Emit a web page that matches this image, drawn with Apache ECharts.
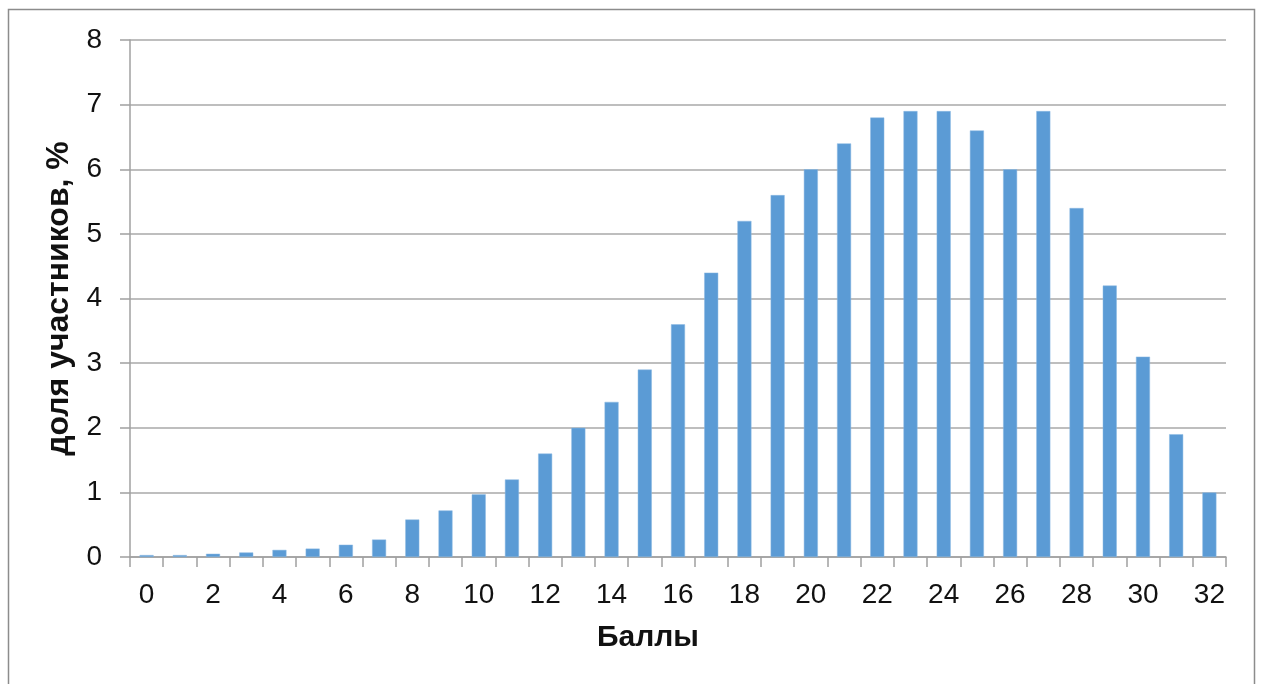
<!DOCTYPE html>
<html><head><meta charset="utf-8">
<script src="https://cdn.jsdelivr.net/npm/echarts@6/dist/echarts.min.js"></script>
<style>html,body{margin:0;padding:0;background:#fff}#c{width:1263px;height:684px}</style>
</head><body><div id="c"></div>
<script>
const categories = ['0','1','2','3','4','5','6','7','8','9','10','11','12','13','14','15','16','17','18','19','20','21','22','23','24','25','26','27','28','29','30','31','32'];
const shares = [0.03,0.03,0.05,0.07,0.11,0.13,0.19,0.27,0.58,0.72,0.97,1.2,1.6,2.0,2.4,2.9,3.6,4.4,5.2,5.6,6.0,6.4,6.8,6.9,6.9,6.6,6.0,6.9,5.4,4.2,3.1,1.9,1.0];
const yTitle = 'доля участников, %';
const xTitle = 'Баллы';

const chart = echarts.init(document.getElementById('c'), null, {renderer:'canvas'});
const font = 'Liberation Sans, Arial, sans-serif';
chart.setOption({
  animation:false,
  backgroundColor:'#fff',
  graphic:[{type:'rect',shape:{x:8.5,y:9.5,width:1246,height:700},style:{fill:'none',stroke:'#8c8c8c',lineWidth:1.5},silent:true}],
  grid:{left:130,right:37,top:40,bottom:127,containLabel:false},
  xAxis:{
    type:'category', data:categories, boundaryGap:true,
    name:xTitle, nameLocation:'middle', nameGap:66,
    nameTextStyle:{fontFamily:font,fontSize:30,fontWeight:'bold',color:'#111',padding:[0,60,0,0]},
    axisLine:{lineStyle:{color:'#a0a0a0',width:1.5}},
    axisTick:{show:true,interval:0,alignWithLabel:false,length:10,lineStyle:{color:'#a0a0a0',width:1.5}},
    axisLabel:{interval:1,fontFamily:font,fontSize:28,color:'#111',margin:24},
    splitLine:{show:false}
  },
  yAxis:{
    type:'value', min:0, max:8, interval:1,
    name:yTitle, nameLocation:'middle', nameGap:52, nameRotate:90,
    nameTextStyle:{fontFamily:font,fontSize:32,fontWeight:'bold',color:'#111'},
    axisLine:{show:true,lineStyle:{color:'#a0a0a0',width:1.5}},
    axisTick:{show:true,length:10,lineStyle:{color:'#a0a0a0',width:1.5}},
    axisLabel:{fontFamily:font,fontSize:28,color:'#111',margin:28},
    splitLine:{show:true,lineStyle:{color:'#a8a8a8',width:1.5}}
  },
  series:[{
    type:'bar', data:shares, barWidth:14,
    itemStyle:{color:'#5b9bd5',borderColor:'#8ab8e3',borderWidth:0.5}
  }]
});
</script></body></html>
